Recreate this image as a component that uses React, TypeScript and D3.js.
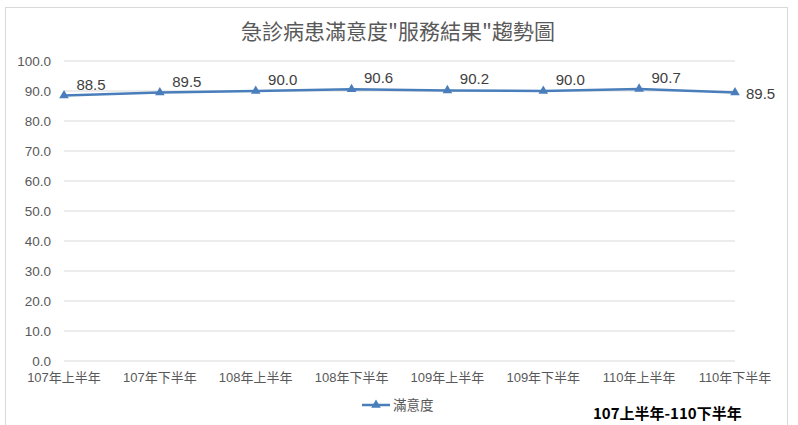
import React from "react";
import * as d3 from "d3";

const categories = ["107年上半年", "107年下半年", "108年上半年", "108年下半年", "109年上半年", "109年下半年", "110年上半年", "110年下半年"];
const values = [88.5, 89.5, 90.0, 90.6, 90.2, 90.0, 90.7, 89.5];
const yTicks = [0, 10, 20, 30, 40, 50, 60, 70, 80, 90, 100];
const title = "急診病患滿意度\"服務結果\"趨勢圖";
const seriesName = "滿意度";
const subtitle = "107上半年-110下半年";

const W = 798, H = 425;
const x = d3.scalePoint<string>().domain(categories).range([64, 735]);
const y = d3.scaleLinear().domain([0, 100]).range([361, 61]);
const color = "#4a7ebb";
const grey = "#595959";
const font = "'Liberation Sans', 'Noto Sans CJK TC', sans-serif";

const tri = d3.symbol().type(d3.symbolTriangle).size(40);

export default function App() {
  const line = d3.line<number>().x((_, i) => x(categories[i])!).y((d) => y(d));
  return (
    <svg width={W} height={H} style={{ position: "absolute", left: 0, top: 0, background: "#fff" }} fontFamily={font}>
      <rect x={5.5} y={7.5} width={782} height={430} fill="#fff" stroke="#d9d9d9" />
      <text x={398} y={39} textAnchor="middle" fontSize={21} fill={grey} fontFamily="'Noto Sans CJK TC', serif">{title}</text>
      {yTicks.map((t) => (
        <g key={t}>
          <line x1={64} x2={735} y1={y(t)} y2={y(t)} stroke="#d9d9d9" strokeWidth={1} />
          <text x={51} y={y(t) + 5} textAnchor="end" fontSize={13.5} fill={grey}>{t.toFixed(1)}</text>
        </g>
      ))}
      {categories.map((c) => (
        <text key={c} x={x(c)} y={382} textAnchor="middle" fontSize={13} fill={grey} fontFamily="'Liberation Sans', 'Noto Sans CJK TC', sans-serif">{c}</text>
      ))}
      <path d={line(values) || ""} fill="none" stroke={color} strokeWidth={2.5} />
      {values.map((v, i) => (
        <path key={i} d={tri() || ""} transform={`translate(${x(categories[i])},${y(v)})`} fill={color} />
      ))}
      {values.map((v, i) => {
        const last = i === values.length - 1;
        return (
          <text key={"l" + i} x={x(categories[i])! + (last ? 11 : 27)} y={y(v) + (last ? 6 : -6)} textAnchor={last ? "start" : "middle"} fontSize={15} fill="#404040">
            {v.toFixed(1)}
          </text>
        );
      })}
      <line x1={362} x2={390} y1={405} y2={405} stroke={color} strokeWidth={2.5} />
      <path d={tri() || ""} transform="translate(376,405)" fill={color} />
      <text x={393} y={410} fontSize={13.5} fill={grey} fontFamily="'Noto Sans CJK TC', sans-serif">{seriesName}</text>
      <text x={593} y={419} fontSize={15} fontWeight="bold" fill="#000" fontFamily="'Noto Sans CJK TC', sans-serif">{subtitle}</text>
    </svg>
  );
}
